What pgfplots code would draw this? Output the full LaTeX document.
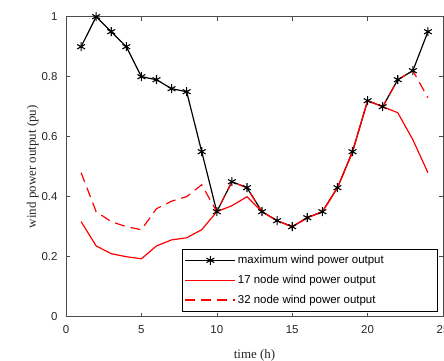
\documentclass[border=0pt]{standalone}
\usepackage{fontspec}
\setmainfont{Liberation Sans}
\newfontfamily\timesfont{Liberation Serif}
\usepackage{pgfplots}
\pgfplotsset{compat=1.18}
\begin{document}
\begin{tikzpicture}[x=1bp,y=1bp]
\begin{axis}[
  at={(0,0)}, anchor=south west,
  scale only axis, width=377bp, height=300bp,
  xmin=0, xmax=25, ymin=0, ymax=1,
  xtick={0,5,10,15,20,25}, ytick={0,0.2,0.4,0.6,0.8,1},
  yticklabels={0,0.2,0.4,0.6,0.8,1},
  tick align=inside, tick pos=both,
  major tick length=4bp,
  axis line style={black!70, line width=0.6pt},
  every tick/.style={black!70, line width=0.6pt},
  ticklabel style={font=\fontsize{11.5}{13}\selectfont, text=black!85},
  yticklabel style={xshift=-5bp},
  xticklabel style={yshift=-5bp},
  /pgf/number format/assume math mode=true,
  xlabel={\timesfont time (h)},
  ylabel={\timesfont wind power output (pu)},
  label style={font=\fontsize{13}{15}\selectfont, text=black!85},
  xlabel style={yshift=-9bp},
  ylabel style={yshift=-4bp},
  legend style={at={(0.984,0.019)}, anchor=south east, draw=black,
    font=\fontsize{11.5}{13}\selectfont, row sep=6bp, inner xsep=3bp, inner ysep=4bp,
    legend cell align=left},
  legend image code/.code={\draw[mark repeat=2,mark phase=2,#1] plot coordinates {(0bp,0bp) (25bp,0bp) (50bp,0bp)};},
]
\addplot[black, line width=1.2pt, mark=asterisk, mark size=4.5bp, mark options={line width=1.1pt}] coordinates {
(1,0.90) (2,1.00) (3,0.95) (4,0.90) (5,0.80) (6,0.79) (7,0.76) (8,0.75) (9,0.55) (10,0.35)
(11,0.45) (12,0.43) (13,0.35) (14,0.32) (15,0.30) (16,0.33) (17,0.35) (18,0.43) (19,0.55) (20,0.72)
(21,0.70) (22,0.79) (23,0.82) (24,0.95)};
\addlegendentry{maximum wind power output\hspace*{48bp}}
\addplot[red, line width=1.2pt] coordinates {
(1,0.317) (2,0.236) (3,0.21) (4,0.20) (5,0.193) (6,0.236) (7,0.256) (8,0.263) (9,0.29) (10,0.35)
(11,0.37) (12,0.40) (13,0.35) (14,0.32) (15,0.30) (16,0.33) (17,0.35) (18,0.43) (19,0.55) (20,0.72)
(21,0.70) (22,0.68) (23,0.59) (24,0.48)};
\addlegendentry{17 node wind power output}
\addplot[red, line width=1.2pt, dash pattern=on 10bp off 6bp] coordinates {
(1,0.48) (2,0.35) (3,0.317) (4,0.30) (5,0.29) (6,0.36) (7,0.385) (8,0.40) (9,0.44) (10,0.35)
(11,0.45) (12,0.43) (13,0.35) (14,0.32) (15,0.30) (16,0.33) (17,0.35) (18,0.43) (19,0.55) (20,0.72)
(21,0.70) (22,0.79) (23,0.82) (24,0.73)};
\addlegendentry{32 node wind power output}
\end{axis}
\pgfresetboundingbox
\useasboundingbox (-66,-43.3) rectangle (378,316.7);
\end{tikzpicture}
\end{document}
